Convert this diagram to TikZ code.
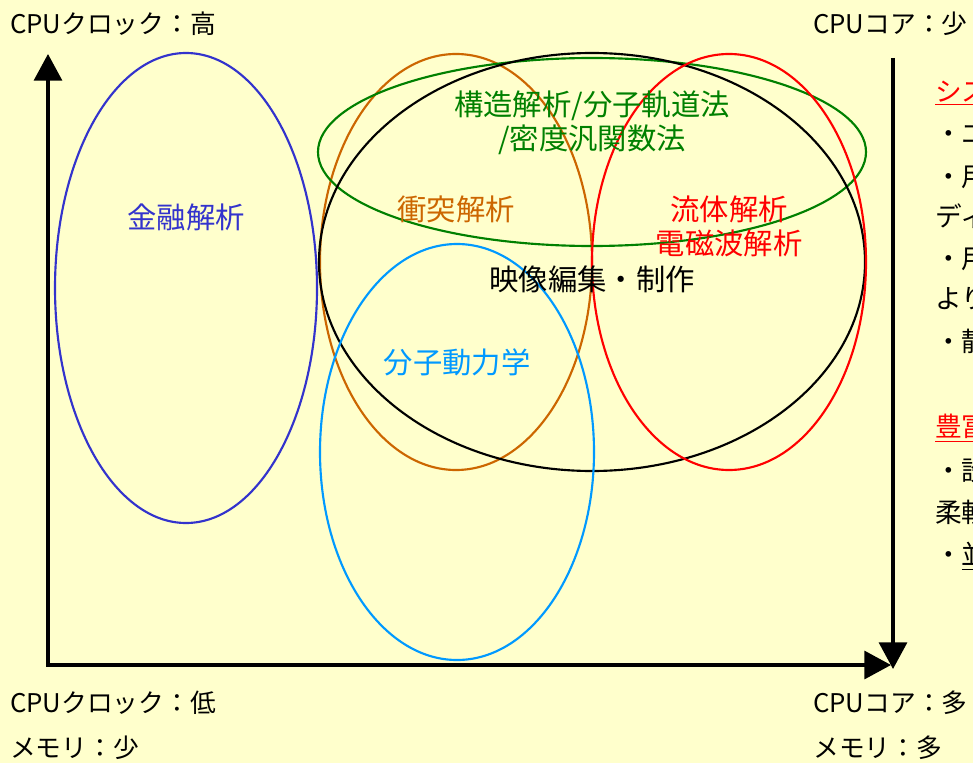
\documentclass[tikz,border=0pt]{standalone}
\usepackage{fontspec}
\setmainfont{Noto Sans CJK JP}
\usetikzlibrary{arrows.meta}
\definecolor{bg}{HTML}{FFFFCC}
\definecolor{cblue}{HTML}{3333CC}
\definecolor{corange}{HTML}{CC6600}
\definecolor{cgreen}{HTML}{008000}
\definecolor{cred}{HTML}{FF0000}
\definecolor{clight}{HTML}{0099FF}
\begin{document}
\begin{tikzpicture}[x=0.75pt,y=-0.75pt,
  lbl/.style={font=\fontsize{22}{26}\selectfont, inner sep=0pt},
  side/.style={font=\fontsize{20}{24}\selectfont, inner sep=0pt, anchor=west},
  corner/.style={font=\fontsize{19.3}{23}\selectfont, inner sep=0pt, anchor=west},
  ell/.style={line width=1.6pt},
  axis/.style={line width=2.4pt, -{Triangle[length=20pt,width=21pt]}}]
\fill[bg] (0,0) rectangle (973,763);
\useasboundingbox (0,0) rectangle (973,763);
\begin{scope}
\clip (0,0) rectangle (973,763);
% ellipses
\draw[ell, cblue] (186,288) ellipse [x radius=131, y radius=235];
\draw[ell, corange] (456,262) ellipse [x radius=136, y radius=208];
\draw[ell, cgreen] (592,152) ellipse [x radius=274, y radius=94];
\draw[ell, black] (592,262) ellipse [x radius=273, y radius=209];
\draw[ell, cred] (729,262) ellipse [x radius=137, y radius=208];
\draw[ell, clight] (457,452) ellipse [x radius=137, y radius=208];
% axes
\coordinate (o) at (48,665);
\coordinate (top) at (48,54);
\coordinate (right) at (891,665);
\coordinate (rtop) at (893,58);
\coordinate (rbot) at (893,669);
\draw[axis] (o) -- (top);
\draw[axis] ([xshift=-1.2pt]o) -- (right);
\draw[axis] (rtop) -- (rbot);
% labels in ellipses
\node[lbl, text=cblue] (kin) at (186,217) {金融解析};
\node[lbl, text=cgreen] (kozo1) at (592,106) {構造解析/分子軌道法};
\node[lbl, text=cgreen] (kozo2) at (592,140) {/密度汎関数法};
\node[lbl, text=corange] (sho) at (456,209) {衝突解析};
\node[lbl, text=cred] (ryu) at (729,209) {流体解析};
\node[lbl, text=cred] (den) at (729,243) {電磁波解析};
\node[lbl] (eizo) at (592,279) {映像編集・制作};
\node[lbl, text=clight] (bun) at (457,362) {分子動力学};
% corner labels
\node[corner] (tl) at (10,24) {CPUクロック：高};
\node[corner] (tr) at (813,24) {CPUコア：少};
\node[corner] (bl1) at (10,703) {CPUクロック：低};
\node[corner] (bl2) at (10,748) {メモリ：少};
\node[corner] (br1) at (813,703) {CPUコア：多};
\node[corner] (br2) at (813,748) {メモリ：多};
% right column (cut off at the edge, as in the reference)
\node[side, text=cred] (r1) at (935,93) {\underline{システム}};
\node[side] (r2) at (935,134) {・エン};
\node[side] (r3) at (935,176) {・用途};
\node[side] (r4) at (935,216) {ディス};
\node[side] (r5) at (935,258) {・用途};
\node[side] (r6) at (935,299) {より};
\node[side] (r7) at (935,341) {・静的};
\node[side, text=cred] (r8) at (935,428) {\underline{豊富な}};
\node[side] (r9) at (935,470) {・設定};
\node[side] (r10) at (935,512) {柔軟};
\node[side] (r11) at (935,556) {・\underline{並列}};
\end{scope}
\end{tikzpicture}
\end{document}
